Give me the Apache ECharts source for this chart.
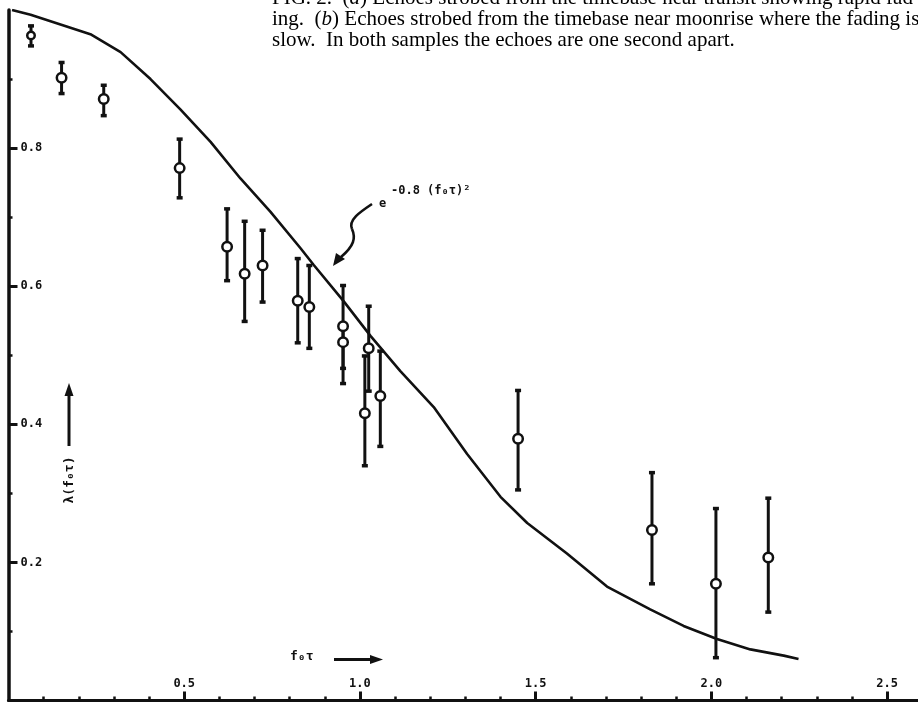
<!DOCTYPE html>
<html><head><meta charset="utf-8">
<script src="https://cdn.jsdelivr.net/npm/echarts@6/dist/echarts.min.js"></script>
<style>html,body{margin:0;padding:0;background:#fff}#c{width:918px;height:702px}</style>
</head><body><div id="c"></div>
<script>
// Measured points: f0*tau, lambda(f0 tau), error-bar low/high
const fTau    = [0.064,0.151,0.271,0.487,0.622,0.672,0.723,0.823,0.856,0.952,0.952,1.025,1.014,1.058,1.450,1.831,2.013,2.162];
const lambda  = [0.963,0.902,0.871,0.771,0.657,0.618,0.630,0.579,0.570,0.542,0.519,0.510,0.416,0.441,0.379,0.247,0.169,0.207];
const errLow  = [0.948,0.879,0.847,0.728,0.608,0.549,0.577,0.518,0.510,0.481,0.459,0.448,0.340,0.368,0.305,0.169,0.062,0.128];
const errHigh = [0.977,0.924,0.891,0.813,0.712,0.694,0.681,0.640,0.630,0.601,0.542,0.571,0.499,0.506,0.449,0.330,0.278,0.293];
// Theoretical curve e^{-0.8 (f0 tau)^2} as drawn
const curveX = [0.01,0.063,0.148,0.233,0.319,0.404,0.489,0.575,0.660,0.745,0.831,0.868,0.954,1.030,1.115,1.210,1.305,1.400,1.476,1.589,1.703,1.826,1.921,2.016,2.111,2.206,2.248];
const curveY = [1.0,0.993,0.979,0.965,0.939,0.900,0.856,0.809,0.756,0.708,0.655,0.631,0.578,0.528,0.477,0.425,0.357,0.295,0.257,0.213,0.165,0.132,0.108,0.089,0.074,0.065,0.060];
// Tick values / labels
const xMajorTicks = [0.5,1.0,1.5,2.0,2.5];
const xMinorTicks = [0.1,0.2,0.3,0.4,0.6,0.7,0.8,0.9,1.1,1.2,1.3,1.4,1.6,1.7,1.8,1.9,2.1,2.2,2.3,2.4];
const yMajorTicks = [0.2,0.4,0.6,0.8];
const yMinorTicks = [0.1,0.3,0.5,0.7,0.9];
const captionLines = [
  ['FIG. 2.  (', 'a', ') Echoes strobed from the timebase near transit showing rapid fad-'],
  ['ing.  (', 'b', ') Echoes strobed from the timebase near moonrise where the fading is'],
  ['slow.  In both samples the echoes are one second apart.']
];

const INK = '#111';
const chart = echarts.init(document.getElementById('c'), null, {renderer:'canvas'});
const monoFont = {fontFamily:'DejaVu Sans Mono', fontWeight:'bold', fontSize:12, color:INK};

function fmt1(v){ return Number(v).toFixed(1); }

function captionRich(parts){
  if(parts.length===1) return '{n|'+parts[0]+'}';
  return '{n|'+parts[0]+'}{i|'+parts[1]+'}{n|'+parts[2]+'}';
}
const capRich = {
  n:{fontFamily:'Liberation Serif', fontSize:21, color:'#000'},
  i:{fontFamily:'Liberation Serif', fontSize:21, fontStyle:'italic', color:'#000'}
};

const X_MAX = 2.588;
const option = {
  animation:false,
  backgroundColor:'#fff',
  grid:{left:8.5, right:0, top:10, bottom:1.5},
  xAxis:[
    {type:'value', min:0, max:X_MAX, position:'bottom',
     axisLine:{show:true, onZero:false, lineStyle:{color:INK, width:3}},
     axisTick:{show:true, inside:true, length:4, customValues:xMinorTicks, lineStyle:{color:INK, width:2.5}},
     axisLabel:{show:false}, splitLine:{show:false}},
    {type:'value', min:0, max:X_MAX, position:'bottom',
     axisLine:{show:false},
     axisTick:{show:true, inside:true, length:9, customValues:xMajorTicks, lineStyle:{color:INK, width:3}},
     axisLabel:Object.assign({show:true, inside:true, margin:11, customValues:xMajorTicks, formatter:fmt1}, monoFont),
     splitLine:{show:false}}
  ],
  yAxis:[
    {type:'value', min:0, max:1, position:'left',
     axisLine:{show:true, onZero:false, lineStyle:{color:INK, width:3.5}},
     axisTick:{show:true, inside:true, length:4, customValues:yMinorTicks, lineStyle:{color:INK, width:2.5}},
     axisLabel:{show:false}, splitLine:{show:false}},
    {type:'value', min:0, max:1, position:'left',
     axisLine:{show:false},
     axisTick:{show:true, inside:true, length:9, customValues:yMajorTicks, lineStyle:{color:INK, width:3}},
     axisLabel:Object.assign({show:true, inside:true, margin:12, customValues:yMajorTicks, formatter:fmt1, verticalAlign:'middle'}, monoFont),
     splitLine:{show:false}}
  ],
  series:[
    {type:'line', xAxisIndex:0, yAxisIndex:0, data:curveX.map((x,i)=>[x,curveY[i]]),
     showSymbol:false, smooth:false, lineStyle:{color:INK, width:2.6}, z:2},
    {type:'custom', xAxisIndex:0, yAxisIndex:0,
     data:fTau.map((x,i)=>[x,errLow[i],errHigh[i]]),
     renderItem:function(params, api){
       const x=api.value(0);
       const lo=api.coord([x, api.value(1)]);
       const hi=api.coord([x, api.value(2)]);
       const st={stroke:INK, lineWidth:3};
       const cap=3;
       return {type:'group', children:[
         {type:'line', shape:{x1:hi[0],y1:hi[1],x2:lo[0],y2:lo[1]}, style:st},
         {type:'line', shape:{x1:hi[0]-cap,y1:hi[1],x2:hi[0]+cap,y2:hi[1]}, style:{stroke:INK,lineWidth:3.5}},
         {type:'line', shape:{x1:lo[0]-cap,y1:lo[1],x2:lo[0]+cap,y2:lo[1]}, style:{stroke:INK,lineWidth:3.5}}
       ]};
     }, z:3},
    {type:'scatter', xAxisIndex:0, yAxisIndex:0, data:fTau.map((x,i)=>[x,lambda[i]]),
     symbol:'circle', symbolSize:function(v, p){ return p.dataIndex===0 ? 7.5 : 9.5; },
     itemStyle:{color:'#fff', borderColor:INK, borderWidth:2.5, opacity:1}, z:4}
  ],
  graphic:[
    // caption
    {type:'text', left:272, top:-12, style:{text:captionRich(captionLines[0]), rich:capRich}},
    {type:'text', left:272, top:9, style:{text:captionRich(captionLines[1]), rich:capRich}},
    {type:'text', left:272, top:30, style:{text:captionRich(captionLines[2]), rich:capRich}},
    // curve annotation
    {type:'text', left:379, top:198, style:{text:'e', fontFamily:'DejaVu Sans Mono', fontWeight:'bold', fontSize:12, fill:INK}},
    {type:'text', left:391, top:185, style:{text:'-0.8 (f₀τ)²', fontFamily:'DejaVu Sans Mono', fontWeight:'bold', fontSize:12, fill:INK}},
    {type:'bezierCurve', shape:{x1:372,y1:204,cpx1:360,cpy1:212,cpx2:348,cpy2:220,x2:352,y2:229},
     style:{fill:null, stroke:INK, lineWidth:2.6}},
    {type:'bezierCurve', shape:{x1:352,y1:229,cpx1:356,cpy1:238,cpx2:354,cpy2:246,x2:341,y2:257},
     style:{fill:null, stroke:INK, lineWidth:2.6}},
    {type:'polygon', shape:{points:[[333,266],[336,253],[345,259]]}, style:{fill:INK}},
    // y-axis label and arrow
    {type:'line', shape:{x1:69,y1:446,x2:69,y2:394}, style:{stroke:INK, lineWidth:3}},
    {type:'polygon', shape:{points:[[69,383],[64.5,396],[73.5,396]]}, style:{fill:INK}},
    {type:'text', x:70, y:480, rotation:Math.PI/2,
     style:{text:'λ(f₀τ)', fontFamily:'DejaVu Sans Mono', fontWeight:'bold', fontSize:13, fill:INK, align:'center', verticalAlign:'middle'}},
    // x-axis label and arrow
    {type:'text', left:290, top:650, style:{text:'f₀τ', fontFamily:'DejaVu Sans Mono', fontWeight:'bold', fontSize:13, fill:INK}},
    {type:'line', shape:{x1:334,y1:659.5,x2:372,y2:659.5}, style:{stroke:INK, lineWidth:3}},
    {type:'polygon', shape:{points:[[383,659.5],[370,655],[370,664]]}, style:{fill:INK}}
  ]
};
chart.setOption(option);
</script></body></html>
